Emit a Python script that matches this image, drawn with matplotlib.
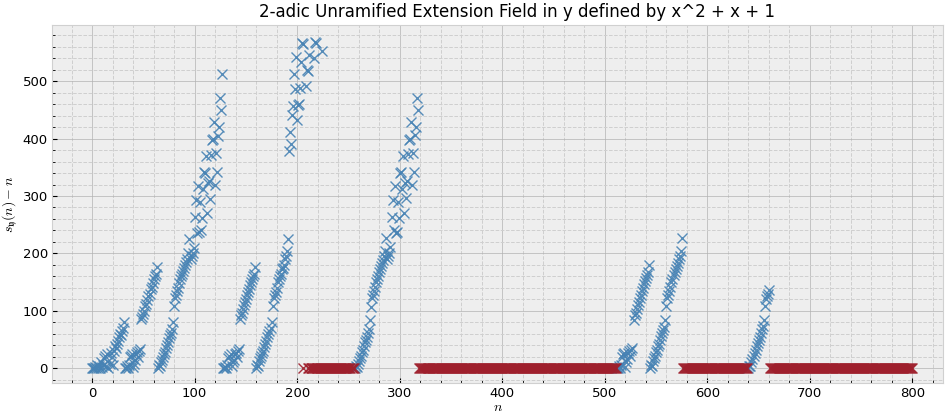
import numpy as np
import matplotlib
matplotlib.use("Agg")
from matplotlib import pyplot as plt
from matplotlib.ticker import AutoMinorLocator

# values, one block of consecutive n per list
# (first n of the block, then s(n) - n for each n)
blk_0 = (0, [0, 0, 0, 2, 0, 6, 0, 3, 0, 10, 2, 5, 18, 22, 3, 25,
             0, 8, 27, 20, 5, 30, 38, 35, 42, 48, 55, 60, 58, 65, 70, 80])
blk_32 = (32, [0, 0, 3, 0, 5, 20, 22, 25, 2, 8, 15, 25, 28, 20, 30, 33])
blk_48 = (48, [85, 90, 95, 100, 108, 112, 118, 125, 130, 138, 142, 148, 155, 160, 165, 177])
blk_64 = (64, [0, 5, 3, 10, 15, 20, 25, 28, 35, 40, 45, 52, 58, 62, 68, 80])
blk_80 = (80, [108, 122, 128, 135, 140, 148, 155, 160, 165, 170, 175, 180, 185, 190, 200, 225])
blk_96 = (96, [190, 195, 200, 210, 264, 293, 235, 317, 237, 290, 240, 261, 313, 342, 340, 370,
               270, 322, 327, 295, 372, 398, 400, 429, 319, 375, 342, 404, 420, 471, 450, 513])
blk_128 = (128, [0, 0, 2, 0, 5, 18, 22, 25, 3, 10, 15, 25, 27, 20, 30, 33])
blk_144 = (144, [85, 92, 97, 103, 110, 115, 120, 127, 133, 138, 145, 150, 155, 160, 165, 177])
blk_160 = (160, [0, 5, 3, 12, 18, 22, 27, 30, 37, 42, 48, 55, 60, 65, 70, 80])
blk_176 = (176, [108, 122, 128, 132, 140, 150, 155, 160, 165, 172, 175, 180, 190, 195, 205, 225])
blk_256 = (256, [0, 3, 2, 8, 12, 18, 22, 28, 32, 38, 45, 50, 55, 62, 68, 84])
blk_272 = (272, [107, 122, 128, 135, 142, 150, 155, 160, 167, 172, 178, 183, 188, 195, 205, 226])
blk_288 = (288, [190, 195, 200, 212, 264, 293, 240, 317, 236, 238, 290, 262, 340, 342, 313, 369,
                 270, 322, 296, 327, 373, 398, 400, 429, 319, 375, 342, 406, 420, 470, 449])
blk_512 = (512, [0, 0, 3, 0, 6, 20, 24, 27, 2, 10, 16, 26, 30, 22, 32, 35])
blk_528 = (528, [84, 92, 97, 103, 110, 116, 122, 128, 134, 140, 146, 152, 157, 162, 167, 179])
blk_544 = (544, [0, 5, 4, 12, 18, 22, 28, 32, 38, 43, 50, 56, 62, 66, 72, 84])
blk_560 = (560, [108, 122, 128, 134, 142, 150, 156, 162, 168, 173, 178, 184, 190, 196, 205, 226])
blk_640 = (640, [0, 4, 3, 10, 16, 22, 26, 32, 38, 44, 50, 55, 62, 68, 74, 84,
                 108, 120, 126, 130, 136])

# the top cluster is sparse, so n is given explicitly
top_n = [192, 193, 194, 195, 196, 197, 198, 199, 200, 201, 202, 203, 204, 205, 206,
         209, 210, 211, 212, 216, 217, 218, 224]
top_y = [379, 412, 390, 441, 456, 512, 486, 542, 432, 458, 460, 488, 534, 567, 564,
         492, 520, 518, 545, 540, 569, 567, 552]

# n ranges (inclusive) drawn in red at 0
red_runs = [(206, 206), (211, 255), (319, 511), (576, 639), (661, 800)]

blocks = [blk_0, blk_32, blk_48, blk_64, blk_80, blk_96, blk_128, blk_144, blk_160,
          blk_176, blk_256, blk_272, blk_288, blk_512, blk_528, blk_544, blk_560, blk_640]

blue_n = []
blue_y = []
for start, vals in blocks:
    blue_n.extend(range(start, start + len(vals)))
    blue_y.extend(vals)
blue_n.extend(top_n)
blue_y.extend(top_y)

red_n = np.concatenate([np.arange(a, b + 1) for a, b in red_runs])
red_y = np.zeros(len(red_n))

plt.style.use("bmh")
fig, ax = plt.subplots(figsize=(9.47, 4.16), dpi=100)
ax.plot(blue_n, blue_y, "x", color="#4682B4", markersize=7, alpha=0.9)
ax.plot(red_n, red_y, "x", color="#9E1F2C", markersize=7, alpha=0.9)

ax.set_xlim(-39, 830)
ax.set_ylim(-26, 598)
ax.xaxis.set_minor_locator(AutoMinorLocator(5))
ax.yaxis.set_minor_locator(AutoMinorLocator(5))
ax.grid(True, which="major", linestyle="-", color="#b2b2b2")
ax.grid(True, which="minor", linestyle="--", color="#cfcfcf", linewidth=0.7)
ax.set_axisbelow(True)
for s in ax.spines.values():
    s.set_visible(True)
    s.set_color("#d0d0d0")
ax.tick_params(labelsize=9.5, pad=3)

ax.set_title("2-adic Unramified Extension Field in y defined by x^2 + x + 1",
             fontsize=12, x=0.522)
ax.set_xlabel("$n$", fontsize=10, labelpad=0)
ax.set_ylabel(r"$s_{\mathfrak{y}}(n) - n$", fontsize=10, labelpad=2)
plt.subplots_adjust(left=0.055, right=0.996, top=0.94, bottom=0.079)
plt.savefig("out.png", dpi=100)
plt.close()
